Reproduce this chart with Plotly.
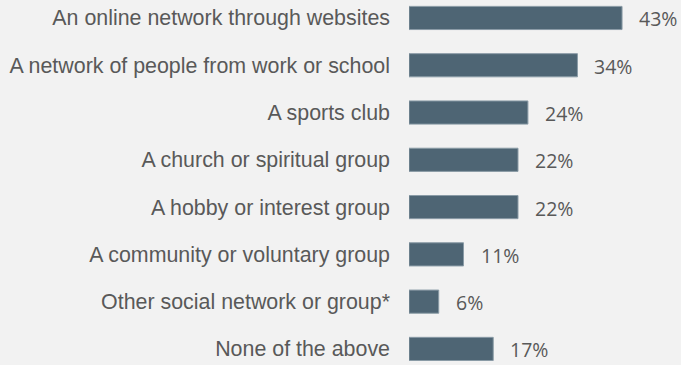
import plotly.graph_objects as go

categories = [
    "An online network through websites",
    "A network of people from work or school",
    "A sports club",
    "A church or spiritual group",
    "A hobby or interest group",
    "A community or voluntary group",
    "Other social network or group*",
    "None of the above",
]
values = [43, 34, 24, 22, 22, 11, 6, 17]
value_labels = [f"{v}%" for v in values]

BAR_COLOR = "#4e6574"
BG = "#f2f2f2"
TEXT = "#595959"

fig = go.Figure(
    go.Bar(
        x=values,
        y=categories,
        orientation="h",
        width=0.49,
        marker=dict(color=BAR_COLOR, line=dict(color="#8a9ba6", width=1)),
        hoverinfo="skip",
    )
)

# value labels to the right of each bar
for cat, v, lab in zip(categories, values, value_labels):
    fig.add_annotation(
        x=v, y=cat, text=lab, showarrow=False,
        xanchor="left", xshift=15, yshift=-1,
        font=dict(family="Open Sans", size=19.5, color=TEXT),
    )

fig.update_layout(
    width=681,
    height=365,
    margin=dict(l=409, r=0, t=0, b=0),
    paper_bgcolor=BG,
    plot_bgcolor=BG,
    showlegend=False,
    xaxis=dict(range=[0, 54.9], visible=False, fixedrange=True),
    yaxis=dict(
        categoryorder="array",
        categoryarray=categories,
        range=[7.34, -0.38],
        showgrid=False,
        zeroline=False,
        showline=False,
        ticks="",
        ticklabelstandoff=18,
        tickfont=dict(family="Liberation Sans", size=21.4, color=TEXT),
    ),
)

fig.write_html("out.html")
